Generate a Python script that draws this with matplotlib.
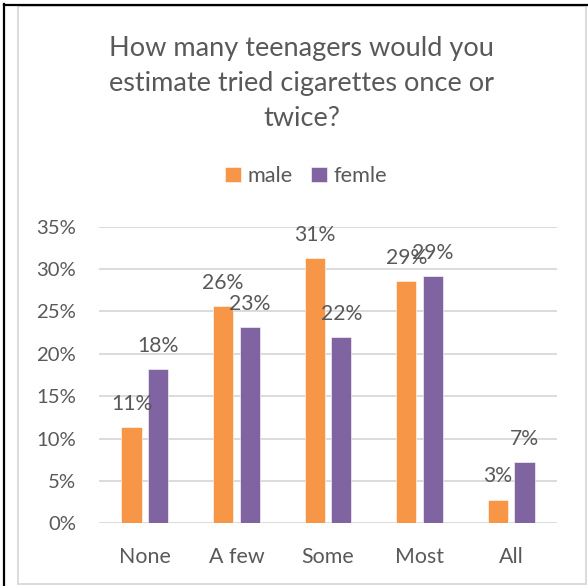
import matplotlib
matplotlib.use("Agg")
import matplotlib.pyplot as plt
import numpy as np
from matplotlib.patches import Rectangle
from matplotlib.lines import Line2D

categories = ["None", "A few", "Some", "Most", "All"]
male = [0.1136, 0.2563, 0.3133, 0.2854, 0.0279]
female = [0.1820, 0.2311, 0.2193, 0.2920, 0.0723]
series_names = ["male", "femle"]
title = "How many teenagers would you\nestimate tried cigarettes once or\ntwice?"
yticks = [0, 0.05, 0.10, 0.15, 0.20, 0.25, 0.30, 0.35]

plt.rcParams['font.family'] = ['Lato', 'DejaVu Sans']
TXT = '#595959'
ORANGE = '#F79646'
PURPLE = '#8064A2'
GRID = '#D9D9D9'

W, H = 588, 586
fig = plt.figure(figsize=(W / 100, H / 100), dpi=100)

# Outer borders
fig.add_artist(Rectangle((17.5 / W, 1 - 584 / H), (585.5 - 17.5) / W, (584 - 6) / H,
                         transform=fig.transFigure, fill=False, edgecolor=GRID, lw=1.3))
fig.add_artist(Line2D([4 / W, 4 / W], [0, 1 - 4 / H], transform=fig.transFigure, color='black', lw=1.6))
fig.add_artist(Line2D([4 / W, 1], [1 - 4.5 / H, 1 - 4.5 / H], transform=fig.transFigure, color='black', lw=1.6))

left, right = 99 / W, 557 / W
bottom, top = (H - 523.3) / H, (H - 226.7) / H
ax = fig.add_axes([left, bottom, right - left, top - bottom])

x = np.arange(len(categories))
bw = 0.222
off = 0.145
b1 = ax.bar(x - off, male, bw, color=ORANGE, label=series_names[0], zorder=3, edgecolor='white', linewidth=0.4)
b2 = ax.bar(x + off, female, bw, color=PURPLE, label=series_names[1], zorder=3, edgecolor='white', linewidth=0.4)

for bars, vals in ((b1, male), (b2, female)):
    for rect, v in zip(bars, vals):
        ax.annotate(f"{round(v * 100):.0f}%", (rect.get_x() + rect.get_width() / 2, v),
                    xytext=(0, 9.5), textcoords='offset points', ha='center', va='bottom',
                    fontsize=15.2, color=TXT, zorder=4)

ax.set_xlim(-0.5, len(categories) - 0.5)
ax.set_ylim(0, 0.35)
ax.set_yticks(yticks)
ax.set_yticklabels([f"{int(round(t * 100))}%" for t in yticks])
ax.set_xticks(x)
ax.set_xticklabels(categories)
ax.tick_params(axis='y', length=0, pad=16.5, labelsize=14.6, labelcolor=TXT)
ax.tick_params(axis='x', length=0, pad=17, labelsize=15.4, labelcolor=TXT)
ax.grid(axis='y', color=GRID, lw=1.3, zorder=0)
for s in ax.spines.values():
    s.set_visible(False)
ax.set_facecolor('none')

fig.text(301.5 / W, 1 - 126 / H, title, ha='center', va='baseline', fontsize=19.5,
         color=TXT, linespacing=1.5, transform=fig.transFigure)

leg = fig.legend(handles=[b1, b2], loc='center', bbox_to_anchor=(306 / W, 1 - 176 / H),
                 ncol=2, frameon=False, fontsize=15.6, labelcolor=TXT, handlelength=0.7,
                 handleheight=0.7, handletextpad=0.3, columnspacing=0.88)

fig.savefig('out.png', dpi=100)
